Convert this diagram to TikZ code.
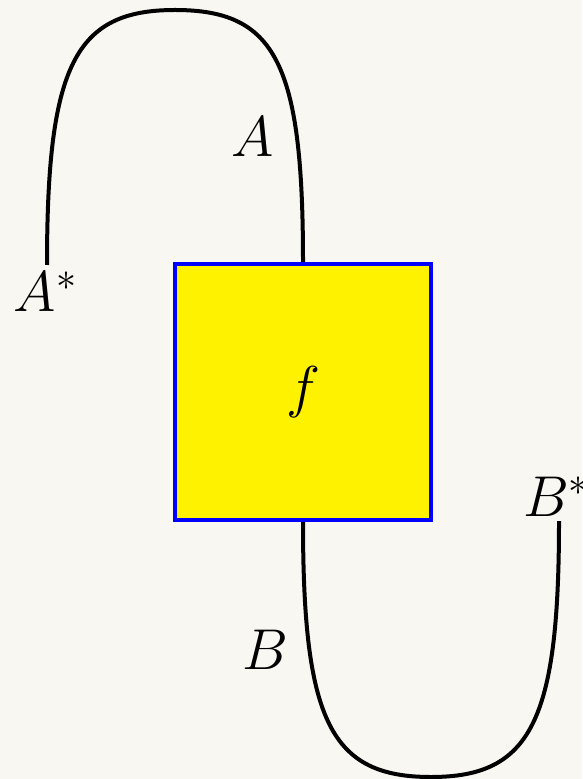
\documentclass[tikz,border=0pt]{standalone}
\usepackage{tikz}
\usepackage{xcolor}
\usetikzlibrary{positioning}
\definecolor{paper}{HTML}{F8F7F2}
\definecolor{boxfill}{HTML}{FFF200}
\definecolor{boxline}{HTML}{0000FF}

\begin{document}
\begin{tikzpicture}[
  x=0.25pt, y=-0.25pt,
  every node/.style={font=\Large},
  morphism/.style={rectangle, draw=boxline, fill=boxfill, line width=1pt,
    minimum width=64pt, minimum height=64pt, inner sep=0pt},
  wire/.style={line width=1pt, black},
  lbl/.style={anchor=base, inner sep=0pt},
]
% Canvas
\fill[paper] (0,0) rectangle (582,779);
\useasboundingbox (0,0) rectangle (582,779);

% Box
\node[morphism] (f) at (303,392) {$f$};

% Wire ends
\coordinate (astar) at (47,265);
\coordinate (bstar) at (559,521);
\coordinate (capA) at (175,10);
\coordinate (cupB) at (431,777);

% Labels
\node[lbl] (labA) at (253,157) {$A$};
\node[lbl] (labAstar) at (46,311) {$A^*$};
\node[lbl] (labB) at (265,669) {$B$};
\node[lbl] (labBstar) at (557,516) {$B^*$};

% Wires
\draw[wire] (astar) .. controls +(0,-200) and +(-100,0) .. (capA)
  .. controls +(100,0) and +(0,-200) .. (f.north);
\draw[wire] (f.south) .. controls +(0,200) and +(-100,0) .. (cupB)
  .. controls +(100,0) and +(0,200) .. (bstar);
\end{tikzpicture}
\end{document}
